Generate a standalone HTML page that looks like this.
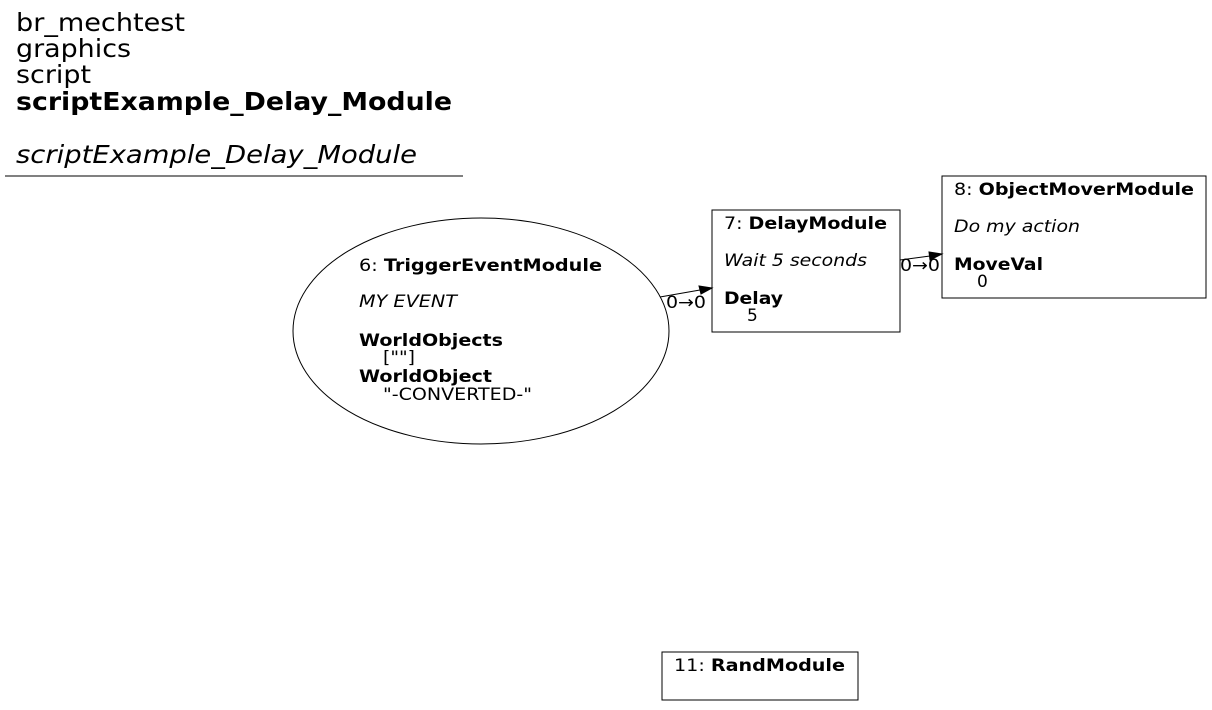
<!DOCTYPE html>
<html><head><meta charset="utf-8"><style>
body{margin:0;background:#fff;}
svg text{font-family:"DejaVu Sans","Liberation Sans",sans-serif;fill:#000;}
</style></head><body>
<svg width="1212" height="705" viewBox="0 0 1212 705" xmlns="http://www.w3.org/2000/svg">
<rect width="1212" height="705" fill="#fff"/>
<g font-size="25" lengthAdjust="spacingAndGlyphs">
<text x="16" y="31" textLength="169" lengthAdjust="spacingAndGlyphs">br_mechtest</text>
<text x="16" y="57" textLength="115" lengthAdjust="spacingAndGlyphs">graphics</text>
<text x="16" y="83" textLength="75" lengthAdjust="spacingAndGlyphs">script</text>
<text x="16" y="110" font-weight="bold" textLength="436" lengthAdjust="spacingAndGlyphs">scriptExample_Delay_Module</text>
<text x="16" y="163" font-style="italic" textLength="401" lengthAdjust="spacingAndGlyphs">scriptExample_Delay_Module</text>
</g>
<line x1="5" y1="176" x2="463" y2="176" stroke="#000" stroke-width="1"/>

<ellipse cx="481" cy="331" rx="188" ry="113" fill="none" stroke="#000"/>
<g font-size="17">
<text x="359" y="271" textLength="243" lengthAdjust="spacingAndGlyphs">6: <tspan font-weight="bold">TriggerEventModule</tspan></text>
<text x="359" y="307" font-style="italic" textLength="98" lengthAdjust="spacingAndGlyphs">MY EVENT</text>
<text x="359" y="346" font-weight="bold" textLength="144" lengthAdjust="spacingAndGlyphs">WorldObjects</text>
<text x="383" y="363" textLength="32" lengthAdjust="spacingAndGlyphs">[""]</text>
<text x="359" y="382" font-weight="bold" textLength="133" lengthAdjust="spacingAndGlyphs">WorldObject</text>
<text x="383" y="400" textLength="149" lengthAdjust="spacingAndGlyphs">"-CONVERTED-"</text>

<rect x="712" y="210" width="188" height="122" fill="none" stroke="#000"/>
<text x="724" y="229" textLength="163" lengthAdjust="spacingAndGlyphs">7: <tspan font-weight="bold">DelayModule</tspan></text>
<text x="724" y="266" font-style="italic" textLength="143" lengthAdjust="spacingAndGlyphs">Wait 5 seconds</text>
<text x="724" y="304" font-weight="bold" textLength="59" lengthAdjust="spacingAndGlyphs">Delay</text>
<text x="747" y="321">5</text>

<rect x="942" y="176" width="264" height="122" fill="none" stroke="#000"/>
<text x="954" y="195" textLength="240" lengthAdjust="spacingAndGlyphs">8: <tspan font-weight="bold">ObjectMoverModule</tspan></text>
<text x="954" y="232" font-style="italic" textLength="126" lengthAdjust="spacingAndGlyphs">Do my action</text>
<text x="954" y="270" font-weight="bold" textLength="89" lengthAdjust="spacingAndGlyphs">MoveVal</text>
<text x="977" y="287">0</text>

<rect x="662" y="652" width="196" height="48" fill="none" stroke="#000"/>
<text x="674" y="671" textLength="171" lengthAdjust="spacingAndGlyphs">11: <tspan font-weight="bold">RandModule</tspan></text>

<text x="666" y="308" textLength="40" lengthAdjust="spacingAndGlyphs">0→0</text>
<text x="900" y="271" textLength="40" lengthAdjust="spacingAndGlyphs">0→0</text>
</g>
<line x1="660" y1="297" x2="700" y2="290" stroke="#000"/>
<polygon points="712,288 699,286 701,294" fill="#000" stroke="#000"/>
<line x1="900" y1="260" x2="930" y2="256" stroke="#000"/>
<polygon points="942,254 929,252 930,260" fill="#000" stroke="#000"/>
</svg>
</body></html>
